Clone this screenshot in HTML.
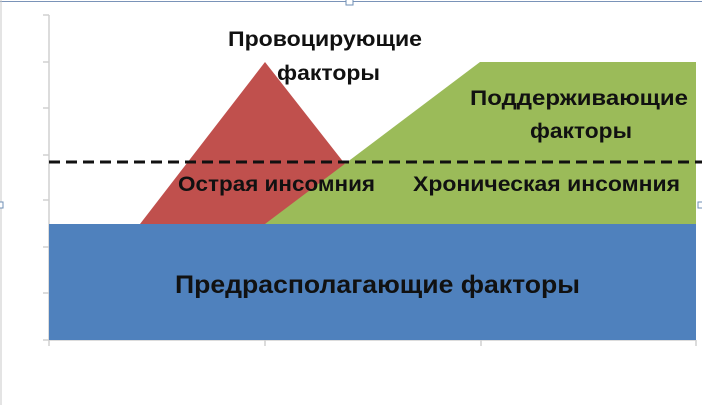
<!DOCTYPE html>
<html><head><meta charset="utf-8"><style>
html,body{margin:0;padding:0;background:#fff;width:702px;height:405px;overflow:hidden}
svg text{font-family:"Liberation Sans","DejaVu Sans",sans-serif;font-weight:bold;fill:#111}
</style></head><body>
<svg width="702" height="405" viewBox="0 0 702 405" xmlns="http://www.w3.org/2000/svg">
<line x1="0" y1="1.5" x2="702" y2="1.5" stroke="#7a93b8" stroke-width="1"/>
<line x1="1" y1="0" x2="1" y2="405" stroke="#c8c8c8" stroke-width="1"/>
<rect x="346" y="-1" width="7" height="6" fill="#fff" stroke="#6f8fb5"/>
<rect x="-2" y="202" width="5" height="6" fill="#fff" stroke="#6f8fb5"/>
<rect x="698" y="202" width="6" height="6" fill="#fff" stroke="#6f8fb5"/>
<g stroke="#d0d0d0" stroke-width="1.5">
<line x1="49" y1="15" x2="49" y2="346"/>
<line x1="43" y1="15" x2="49" y2="15"/><line x1="43" y1="62" x2="49" y2="62"/>
<line x1="43" y1="108" x2="49" y2="108"/><line x1="43" y1="155" x2="49" y2="155"/>
<line x1="43" y1="200" x2="49" y2="200"/><line x1="43" y1="247" x2="49" y2="247"/>
<line x1="43" y1="293" x2="49" y2="293"/><line x1="43" y1="340" x2="49" y2="340"/>
<line x1="49" y1="340" x2="696" y2="340"/>
<line x1="265" y1="340" x2="265" y2="346"/><line x1="481" y1="340" x2="481" y2="346"/>
<line x1="696" y1="340" x2="696" y2="346"/>
</g>
<polygon points="140,224 265,62 392,224" fill="#c0504d"/>
<polygon points="265,224 480,62 696,62 696,224" fill="#9bbb59"/>
<rect x="49" y="224" width="647" height="116" fill="#4f81bd"/>
<line x1="49" y1="162" x2="702" y2="162" stroke="#111" stroke-width="3" stroke-dasharray="11,6"/>
<text x="228" y="46" font-size="21" textLength="194" lengthAdjust="spacingAndGlyphs">Провоцирующие</text>
<text x="277" y="80" font-size="21" textLength="103" lengthAdjust="spacingAndGlyphs">факторы</text>
<text x="470" y="105" font-size="21" textLength="218" lengthAdjust="spacingAndGlyphs">Поддерживающие</text>
<text x="530" y="138" font-size="21" textLength="102" lengthAdjust="spacingAndGlyphs">факторы</text>
<text x="178" y="191" font-size="21" textLength="197" lengthAdjust="spacingAndGlyphs">Острая инсомния</text>
<text x="413" y="191" font-size="21" textLength="267" lengthAdjust="spacingAndGlyphs">Хроническая инсомния</text>
<text x="175" y="293" font-size="25" textLength="405" lengthAdjust="spacingAndGlyphs">Предрасполагающие факторы</text>
</svg>
</body></html>
